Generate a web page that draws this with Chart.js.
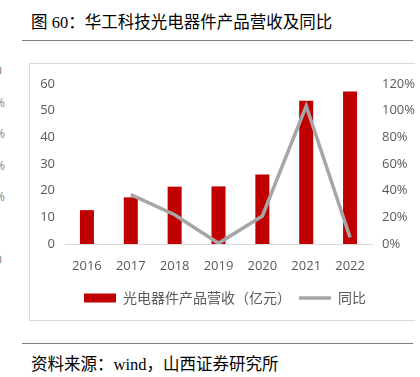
<!DOCTYPE html>
<html>
<head>
<meta charset="utf-8">
<script src="https://cdn.jsdelivr.net/npm/chart.js@4"></script>
<style>
  body { margin: 0; width: 420px; height: 377px; overflow: hidden; background: #fff; position: relative; }
  .cap { position: absolute; left: 31px; font-family: "Liberation Serif", "Noto Sans CJK SC", serif; font-size: 16.5px; color: #000; white-space: nowrap; }
  .rule { position: absolute; left: 22px; width: 391px; height: 1px; background: #7f7f7f; }
  .frame { position: absolute; left: 29px; top: 63px; width: 385px; height: 256px; border: 1px solid #d9d9d9; border-right: none; }
  .box { position: absolute; left: 30px; top: 64px; width: 390px; height: 255px; }
  .frag { position: absolute; left: -5px; font-family: "Open Sans", sans-serif; font-size: 12px; color: #7f7f7f; }
</style>
</head>
<body>
<div class="cap" style="top:9px">图 60：华工科技光电器件产品营收及同比</div>
<div class="rule" style="top:40px"></div>
<div class="frag" style="top:62px">0</div>
<div class="frag" style="top:94px">%</div>
<div class="frag" style="top:125px">%</div>
<div class="frag" style="top:157px">%</div>
<div class="frag" style="top:188px">%</div>
<div class="frag" style="top:251px">0</div>
<div class="frame"></div>
<div class="box"><canvas id="chart"></canvas></div>
<div class="rule" style="top:343px"></div>
<div class="cap" style="top:351px">资料来源：wind，山西证券研究所</div>
<script>
// 数据
const years = ["2016", "2017", "2018", "2019", "2020", "2021", "2022"];
const revenue = [12.7, 17.5, 21.5, 21.6, 26.1, 53.7, 57.2]; // 亿元
const yoy = [null, 37, 22, 0.5, 21, 103.5, 5]; // %
const leftTicks = [0, 10, 20, 30, 40, 50, 60];
const rightTicks = [0, 20, 40, 60, 80, 100, 120];

const tickFont = { family: "'Open Sans', sans-serif", size: 13 };

const ctx = document.getElementById("chart").getContext("2d");
const chart = new Chart(ctx, {
  data: {
    labels: years,
    datasets: [
      {
        type: "line",
        label: "同比",
        data: yoy,
        yAxisID: "y1",
        borderColor: "#a6a6a6",
        backgroundColor: "#a6a6a6",
        borderWidth: 3.5,
        pointRadius: 0,
        pointStyle: "line",
        tension: 0,
        order: 0,
      },
      {
        type: "bar",
        label: "光电器件产品营收（亿元）",
        data: revenue,
        yAxisID: "y",
        backgroundColor: "#c00000",
        borderWidth: 0,
        barPercentage: 0.64,
        categoryPercentage: 0.5,
        pointStyle: "rect",
        order: 1,
      },
    ],
  },
  options: {
    responsive: true,
    maintainAspectRatio: false,
    animation: false,
    layout: { padding: { top: 20, left: 0, right: 0, bottom: 4 } },
    plugins: {
      tooltip: { enabled: false },
      legend: {
        position: "bottom",
        reverse: true,
        labels: {
          usePointStyle: true,
          pointStyleWidth: 32,
          boxHeight: 9,
          padding: 8,
          color: "#595959",
          font: { family: "'Noto Sans CJK SC', sans-serif", size: 14 },
        },
      },
    },
    scales: {
      x: {
        grid: { display: false },
        border: { color: "#d9d9d9", width: 1 },
        ticks: { color: "#595959", font: tickFont, padding: 6 },
        afterFit: (s) => { s.height = 39; },
      },
      y: {
        position: "left",
        min: 0,
        max: 60,
        afterBuildTicks: (s) => { s.ticks = leftTicks.map((v) => ({ value: v })); },
        grid: { display: false, drawTicks: false },
        border: { display: false },
        ticks: { color: "#595959", font: tickFont, padding: 10 },
        afterFit: (s) => { s.width = 35; },
      },
      y1: {
        position: "right",
        min: 0,
        max: 120,
        afterBuildTicks: (s) => { s.ticks = rightTicks.map((v) => ({ value: v })); },
        grid: { display: false, drawTicks: false },
        border: { display: false },
        ticks: { color: "#595959", font: tickFont, padding: 10, callback: (v) => v + "%" },
        afterFit: (s) => { s.width = 48; },
      },
    },
  },
});
</script>
</body>
</html>
